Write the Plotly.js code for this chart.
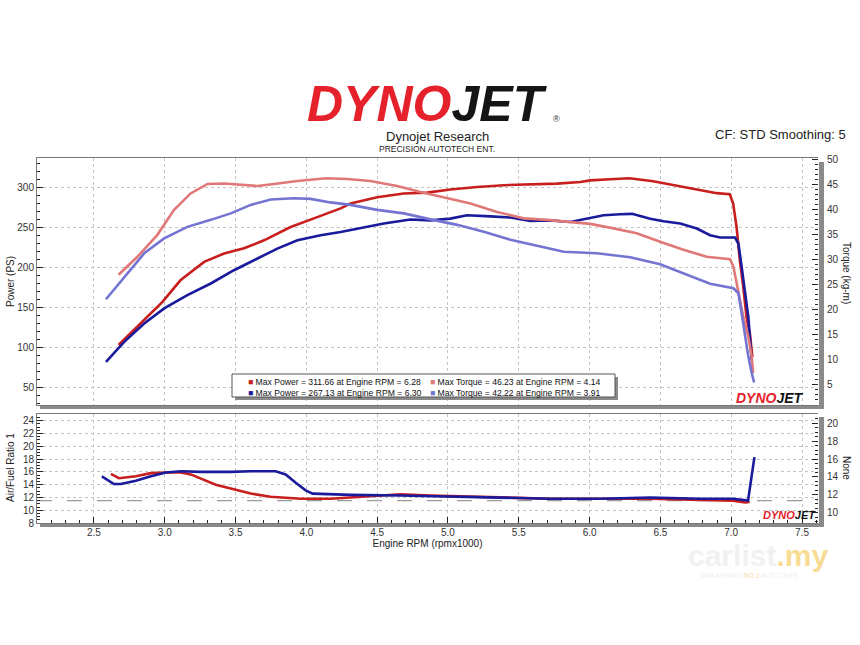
<!DOCTYPE html>
<html>
<head>
<meta charset="utf-8">
<script src="https://cdn.plot.ly/plotly-3.0.1.min.js"></script>
<style>html,body{margin:0;padding:0;background:#fff;}#chart{width:860px;height:645px;}</style>
</head>
<body>
<div id="chart"></div>
<script>
// ---------- DATA ----------
const rpmPowerRed = [2.674,2.831,2.984,3.111,3.278,3.419,3.560,3.701,3.889,4.077,4.171,4.242,4.312,4.500,4.688,4.853,5.017,5.206,5.394,5.582,5.770,5.934,6.005,6.146,6.28,6.449,6.640,6.804,6.898,6.99,7.014,7.038,7.061,7.085,7.108,7.132,7.15];
const powerRed    = [103,130,157,184,207,217.5,224,234,250.7,263,269.5,274,280,288,292.5,293.7,297.5,300.8,303,303.7,305,307,309,310.4,311.66,308,301.6,295.8,293,291.6,280,250.7,209,176,138,117.5,88];

const rpmPowerBlue = [2.585,2.714,2.855,2.996,3.160,3.325,3.489,3.654,3.795,3.937,4.101,4.242,4.358,4.547,4.735,4.877,5.017,5.135,5.300,5.441,5.582,5.723,5.864,5.982,6.099,6.217,6.30,6.428,6.522,6.640,6.757,6.851,6.922,7.027,7.051,7.074,7.098,7.121,7.132,7.145];
const powerBlue    = [82,107,130,148.8,165.4,180,196.6,211,223.7,234,240.4,244.5,248.7,255,260,259,261.2,265.4,264,262.5,258.3,259,257,261,265.4,266.6,267.13,261,257.9,255,248.7,240.4,237.5,237.5,230,200.8,167.5,138,113,84];

const rpmTorqueRed = [2.674,2.807,2.948,3.066,3.183,3.302,3.419,3.537,3.654,3.771,3.937,4.14,4.289,4.453,4.641,4.806,4.970,5.159,5.347,5.535,5.700,5.864,6.005,6.169,6.333,6.498,6.663,6.827,6.992,7.016,7.051,7.085,7.121,7.145,7.155];
const torqueRed    = [26.9,30.5,34.9,39.9,43.2,45.1,45.2,44.9,44.7,45.1,45.7,46.23,46.1,45.7,44.7,43.5,42.5,41.2,39.5,38.2,37.9,37.4,37.1,36.2,35.2,33.5,31.9,30.5,30.0,28.5,23.2,18.5,14.5,10.5,7.2];

const rpmTorqueBlue = [2.585,2.714,2.855,2.996,3.160,3.325,3.466,3.607,3.748,3.91,4.030,4.171,4.312,4.500,4.688,4.877,5.065,5.253,5.441,5.629,5.817,6.052,6.287,6.498,6.663,6.851,7.016,7.051,7.074,7.098,7.121,7.145,7.162];
const torqueBlue    = [22.0,26.5,31.2,34.2,36.5,37.9,39.2,40.9,42.0,42.22,42.1,41.4,40.9,39.9,39.2,38.0,36.9,35.5,33.9,32.7,31.5,31.2,30.4,29.0,27.2,25.1,24.2,23.2,19.2,14.5,10.5,7.2,5.3];

const rpmAfrRed = [2.620,2.676,2.796,2.902,3.008,3.114,3.184,3.255,3.360,3.466,3.607,3.748,3.960,4.171,4.383,4.665,4.877,5.159,5.441,5.723,6.075,6.428,6.781,7.013,7.098,7.13];
const afrRed    = [15.7,15.0,15.3,15.8,15.9,15.9,15.6,15.0,14.0,13.4,12.6,12.1,11.8,11.8,12.1,12.5,12.3,12.1,12.0,11.8,11.8,11.8,11.6,11.5,11.2,11.3];

const rpmAfrBlue = [2.556,2.641,2.690,2.796,2.902,3.008,3.114,3.255,3.466,3.607,3.783,3.854,3.925,3.995,4.044,4.312,4.665,5.018,5.370,5.723,6.075,6.428,6.781,7.013,7.119,7.133,7.152,7.164];
const afrBlue    = [15.3,14.1,14.1,14.6,15.3,15.9,16.1,16.0,16.0,16.1,16.1,15.6,14.3,13.1,12.6,12.4,12.3,12.1,11.9,11.8,11.8,12.0,11.8,11.8,11.5,13.4,16.0,18.3];

const afrTarget = 11.5;

const legendLabels = [
  "Max Power = 311.66 at Engine RPM = 6.28",
  "Max Torque = 46.23 at Engine RPM = 4.14",
  "Max Power = 267.13 at Engine RPM = 6.30",
  "Max Torque = 42.22 at Engine RPM = 3.91"
];

// ---------- STYLE ----------
const C_RED = "#c81e1e", C_BLUE = "#1a1a9c", C_PINK = "#e07878", C_LBLUE = "#7474d2";
const FONT = "Liberation Sans, Arial, sans-serif";
const L = 37, R = 818, T = 158, B = 523;
const fx = p => (p - L) / (R - L);
const fy = p => (B - p) / (B - T);
const gridCol = "#c4c4c4";

const traces = [
  {x: rpmPowerRed, y: powerRed, xaxis: "x", yaxis: "y", mode: "lines", line: {color: C_RED, width: 2.6}, showlegend: false},
  {x: rpmPowerBlue, y: powerBlue, xaxis: "x", yaxis: "y", mode: "lines", line: {color: C_BLUE, width: 2.6}, showlegend: false},
  {x: rpmTorqueRed, y: torqueRed, xaxis: "x", yaxis: "y2", mode: "lines", line: {color: C_PINK, width: 2.6}, showlegend: false},
  {x: rpmTorqueBlue, y: torqueBlue, xaxis: "x", yaxis: "y2", mode: "lines", line: {color: C_LBLUE, width: 2.6}, showlegend: false},
  {x: rpmAfrRed, y: afrRed, xaxis: "x2", yaxis: "y3", mode: "lines", line: {color: C_RED, width: 2.6}, showlegend: false},
  {x: rpmAfrBlue, y: afrBlue, xaxis: "x2", yaxis: "y3", mode: "lines", line: {color: C_BLUE, width: 2.6}, showlegend: false},
  {x: [], y: [], xaxis: "x2", yaxis: "y4", mode: "lines", showlegend: false}
];

const tickFont = {family: FONT, size: 10, color: "#333"};
const xRange = [2.098, 7.613];

const layout = {
  width: 860, height: 645,
  margin: {l: L, r: 860 - R, t: T, b: 645 - B},
  paper_bgcolor: "#fff", plot_bgcolor: "#fff",
  font: {family: FONT, color: "#222"},
  showlegend: false,
  xaxis: {domain: [0, 1], anchor: "y", range: xRange, dtick: 0.5, tick0: 2.5, showticklabels: false,
          showgrid: true, gridcolor: gridCol, griddash: "dot", gridwidth: 1, zeroline: false,
          showline: true, mirror: true, linecolor: "#777", ticks: ""},
  yaxis: {domain: [fy(405), 1], anchor: "x", range: [28, 337], dtick: 50, tick0: 50,
          ticks: "inside", ticklen: 6, tickcolor: "#222", tickfont: tickFont,
          minor: {dtick: 10, tick0: 0, ticks: "inside", ticklen: 3, tickcolor: "#222", showgrid: false},
          showgrid: true, gridcolor: gridCol, griddash: "dot", zeroline: false,
          showline: true, linecolor: "#777"},
  yaxis2: {overlaying: "y", side: "right", anchor: "x", range: [0.8, 50.3], dtick: 5, tick0: 0,
           ticks: "inside", ticklen: 6, tickcolor: "#222", tickfont: tickFont, ticklabelstandoff: 8,
           minor: {dtick: 1, ticks: "inside", ticklen: 3, tickcolor: "#222", showgrid: false},
           showgrid: false, zeroline: false, showline: false},
  xaxis2: {domain: [0, 1], anchor: "y3", range: xRange, dtick: 0.5, tick0: 2.5, tickformat: ".1f",
           tickfont: tickFont, ticks: "inside", ticklen: 6, tickcolor: "#222",
           minor: {dtick: 0.1, ticks: "inside", ticklen: 3, tickcolor: "#222", showgrid: false},
           showgrid: true, gridcolor: gridCol, griddash: "dot", zeroline: false,
           showline: true, mirror: true, linecolor: "#777",
           title: {text: "Engine RPM (rpmx1000)", font: {family: FONT, size: 10, color: "#222"}, standoff: 2}},
  yaxis3: {domain: [0, fy(414)], anchor: "x2", range: [8, 25.05], dtick: 2, tick0: 8,
           ticks: "inside", ticklen: 6, tickcolor: "#222", tickfont: tickFont,
           minor: {dtick: 0.5, ticks: "inside", ticklen: 3, tickcolor: "#222", showgrid: false},
           showgrid: true, gridcolor: gridCol, griddash: "dot", zeroline: false,
           showline: true, linecolor: "#777"},
  yaxis4: {overlaying: "y3", side: "right", anchor: "x2", range: [8.85, 21.05], dtick: 2, tick0: 10,
           ticks: "inside", ticklen: 6, tickcolor: "#222", tickfont: tickFont, ticklabelstandoff: 8,
           minor: {dtick: 0.5, ticks: "inside", ticklen: 3, tickcolor: "#222", showgrid: false},
           showgrid: false, zeroline: false, showline: false},
  shapes: [
    {type: "rect", xref: "paper", yref: "paper", x0: fx(40), x1: fx(824), y0: fy(409), y1: fy(405), fillcolor: "#8a8a8a", line: {width: 0}, layer: "below"},
    {type: "rect", xref: "paper", yref: "paper", x0: fx(819), x1: fx(824), y0: fy(409), y1: fy(162), fillcolor: "#8a8a8a", line: {width: 0}, layer: "below"},
    {type: "rect", xref: "paper", yref: "paper", x0: fx(40), x1: fx(824), y0: fy(527), y1: fy(523), fillcolor: "#8a8a8a", line: {width: 0}, layer: "below"},
    {type: "rect", xref: "paper", yref: "paper", x0: fx(819), x1: fx(824), y0: fy(527), y1: fy(417), fillcolor: "#8a8a8a", line: {width: 0}, layer: "below"},
    {type: "line", xref: "x2 domain", yref: "y3", x0: 0, x1: 1, y0: afrTarget, y1: afrTarget, line: {color: "#9a9a9a", width: 1.2, dash: "longdash"}, layer: "below"},
    {type: "rect", xref: "paper", yref: "paper", x0: fx(235), x1: fx(618), y0: fy(400), y1: fy(377), fillcolor: "#8a8a8a", line: {width: 0}, layer: "above"},
    {type: "rect", xref: "paper", yref: "paper", x0: fx(232), x1: fx(615), y0: fy(397), y1: fy(374), fillcolor: "#fff", line: {color: "#555", width: 1}, layer: "above"}
  ],
  annotations: []
};

const A = layout.annotations;
function ann(x, y, text, opts) {
  A.push(Object.assign({xref: "paper", yref: "paper", x: fx(x), y: fy(y), text: text, showarrow: false,
    xanchor: "center", yanchor: "middle", font: {family: FONT, size: 10, color: "#222"}}, opts || {}));
}
// Header
ann(428, 104, '<b><i><span style="color:#e5222b">DYNO</span><span style="color:#151515">JET</span></i></b>', {font: {family: FONT, size: 50}});
ann(556, 119, '®', {font: {family: FONT, size: 9, color: "#333"}});
ann(437, 137, 'Dynojet Research', {font: {family: FONT, size: 13, color: "#222"}});
ann(437, 149, 'PRECISION AUTOTECH ENT.', {font: {family: FONT, size: 8.5, color: "#222"}});
ann(848, 135, 'CF: STD Smoothing: 5', {xanchor: "right", font: {family: FONT, size: 13, color: "#222"}});
// axis titles
ann(10, 282, 'Power (PS)', {textangle: -90, font: {family: FONT, size: 10, color: "#222"}});
ann(847, 273, 'Torque (kg-m)', {textangle: 90, font: {family: FONT, size: 10, color: "#222"}});
ann(10, 468, 'Air/Fuel Ratio 1', {textangle: -90, font: {family: FONT, size: 10, color: "#222"}});
ann(847, 468, 'None', {textangle: 90, font: {family: FONT, size: 10, color: "#222"}});
// legend
const legColors = [C_RED, C_PINK, C_BLUE, C_LBLUE];
const legPos = [[246, 381.5], [428, 381.5], [246, 392.5], [428, 392.5]];
legendLabels.forEach((t, i) => {
  ann(legPos[i][0], legPos[i][1], '<span style="color:' + legColors[i] + '">■</span> ' + t,
      {xanchor: "left", font: {family: FONT, size: 8.6, color: "#111"}});
});
// small logos in panels
ann(770, 398, '<b><i><span style="color:#e5222b">DYNO</span><span style="color:#151515">JET</span></i></b>', {font: {family: FONT, size: 14}});
ann(789, 515, '<b><i><span style="color:#e5222b">DYNO</span><span style="color:#151515">JET</span></i></b>', {font: {family: FONT, size: 11}});
// source watermark
ann(758, 555, '<b><span style="color:#f1f1f1">carlist</span><span style="color:#f8dc93">.my</span></b>', {font: {family: FONT, size: 30}});
ann(750, 575, '<span style="color:#eeeeee">MALAYSIA\'S </span><span style="color:#f6e0a6">NO.1</span><span style="color:#eeeeee"> AUTO SITE</span>', {font: {family: FONT, size: 7}});

Plotly.newPlot("chart", traces, layout, {displayModeBar: false, staticPlot: true});
</script>
</body>
</html>
